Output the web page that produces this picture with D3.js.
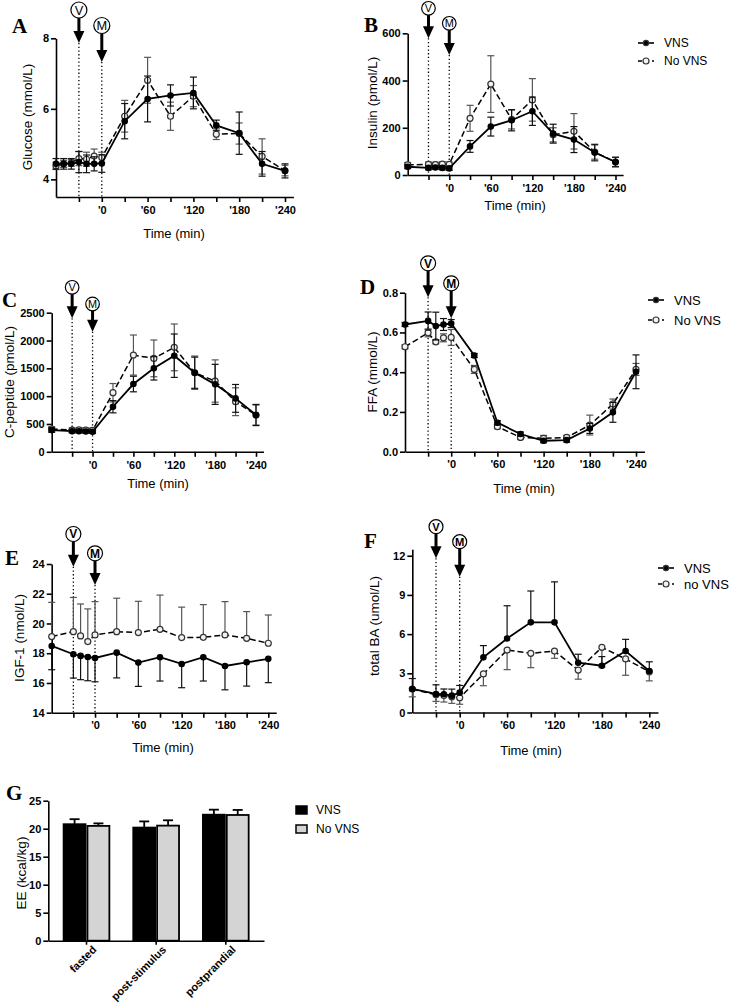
<!DOCTYPE html>
<html>
<head>
<meta charset="utf-8">
<script src="https://cdn.jsdelivr.net/npm/d3@7"></script>
<style>
body { margin: 0; background: #fff; }
text { font-family: "Liberation Sans", Arial, sans-serif; fill: #000; }
.tick text { font-weight: bold; font-size: 11px; }
.domain, .tick line { stroke: #000; stroke-width: 1.6; }
.panel-label { font-family: "Liberation Serif", "Times New Roman", serif; font-weight: bold; font-size: 21px; }
.axis-title { font-size: 13.5px; }
</style>
</head>
<body>
<svg id="fig" width="732" height="1005"></svg>
<script>
"use strict";

// time points (min)
var glucoseTimes = [-60, -50, -40, -30, -20, -10, 0, 30, 60, 90, 120, 150, 180, 210, 240];
var sampleTimes = [-60, -30, -20, -10, 0, 30, 60, 90, 120, 150, 180, 210, 240];
var timeTicks = [-30, 0, 30, 60, 90, 120, 150, 180, 210, 240];
var timeLabels = [0, 60, 120, 180, 240];

// A - glucose
var glucoseVNS      = [4.44, 4.44, 4.44, 4.49, 4.44, 4.44, 4.45, 5.65, 6.28, 6.38, 6.45, 5.53, 5.31, 4.44, 4.24];
var glucoseVNSErr   = [0.15, 0.15, 0.15, 0.3, 0.25, 0.2, 0.25, 0.5, 0.65, 0.3, 0.45, 0.15, 0.6, 0.35, 0.2];
var glucoseNoVNS    = [4.38, 4.44, 4.47, 4.59, 4.57, 4.66, 4.62, 5.79, 6.81, 5.79, 6.36, 5.28, 5.30, 4.65, 4.25];
var glucoseNoVNSErr = [0.1, 0.1, 0.1, 0.2, 0.2, 0.2, 0.15, 0.45, 0.65, 0.4, 0.3, 0.15, 0.3, 0.5, 0.15];

// B - insulin
var insulinVNS      = [35, 30, 32, 30, 28, 121, 205, 232, 270, 175, 150, 95, 55];
var insulinVNSErr   = [8, 8, 8, 8, 8, 25, 40, 45, 60, 40, 55, 35, 20];
var insulinNoVNS    = [43, 45, 44, 46, 45, 240, 385, 235, 318, 170, 185, 97, 55];
var insulinNoVNSErr = [10, 10, 10, 10, 10, 55, 120, 40, 90, 30, 75, 30, 20];

// C - C-peptide
var cpepVNS      = [390, 370, 370, 365, 360, 810, 1218, 1500, 1727, 1421, 1212, 960, 661];
var cpepVNSErr   = [40, 30, 30, 30, 30, 110, 140, 210, 390, 280, 360, 250, 190];
var cpepNoVNS    = [410, 390, 395, 390, 385, 1062, 1739, 1679, 1877, 1421, 1272, 900, 661];
var cpepNoVNSErr = [40, 40, 40, 40, 40, 165, 360, 330, 420, 300, 380, 250, 180];

// D - FFA
var ffaVNS      = [0.64, 0.658, 0.632, 0.64, 0.645, 0.484, 0.146, 0.089, 0.055, 0.058, 0.117, 0.198, 0.402];
var ffaVNSErr   = [0.01, 0.045, 0.07, 0.03, 0.02, 0.01, 0.01, 0.01, 0.01, 0.01, 0.025, 0.05, 0.085];
var ffaNoVNS    = [0.528, 0.598, 0.553, 0.573, 0.575, 0.414, 0.126, 0.072, 0.067, 0.072, 0.134, 0.24, 0.414];
var ffaNoVNSErr = [0.01, 0.02, 0.01, 0.02, 0.04, 0.02, 0.01, 0.01, 0.015, 0.01, 0.05, 0.025, 0.03];

// E - IGF-1
var igfVNS      = [18.49, 17.93, 17.82, 17.75, 17.68, 18.04, 17.37, 17.73, 17.28, 17.73, 17.14, 17.39, 17.62];
var igfVNSErr   = [1.6, 1.6, 1.6, 1.6, 1.6, 1.7, 1.6, 1.6, 1.6, 1.6, 1.6, 1.6, 1.6];
var igfNoVNS    = [19.12, 19.45, 19.16, 18.78, 19.23, 19.45, 19.39, 19.61, 19.05, 19.07, 19.23, 19.0, 18.67];
var igfNoVNSErr = [2.3, 2.3, 2.15, 2.2, 2.24, 2.25, 2.1, 2.3, 2.05, 2.2, 2.24, 1.8, 1.9];

// F - total bile acids
var baVNS      = [1.8, 1.42, 1.4, 1.29, 1.52, 4.22, 5.67, 6.9, 6.9, 3.81, 3.58, 4.7, 3.18];
var baVNSErr   = [0.8, 0.7, 0.4, 0.5, 0.55, 0.9, 2.5, 2.4, 3.1, 0.65, 0.7, 0.9, 0.7];
var baNoVNS    = [1.8, 1.35, 1.3, 1.2, 1.13, 2.95, 4.78, 4.53, 4.7, 3.25, 4.99, 4.1, 3.12];
var baNoVNSErr = [0.6, 0.5, 0.5, 0.5, 0.5, 0.9, 1.5, 1.1, 0.55, 0.7, 1.5, 1.25, 0.7];

// G - energy expenditure
var eeCategories = ["fasted", "post-stimulus", "postprandial"];
var eeGroups     = ["VNS", "No VNS"];
var eeVNS        = [20.8, 20.2, 22.5];
var eeVNSErr     = [0.9, 1.1, 0.9];
var eeNoVNS      = [20.5, 20.55, 22.45];
var eeNoVNSErr   = [0.45, 0.95, 0.9];

var svg = d3.select("#fig");


function drawArrow(g, xp, cy, tip, r, letter, bold, axisY) {
    g.append("line")
        .attr("x1", xp).attr("x2", xp).attr("y1", tip).attr("y2", axisY)
        .attr("stroke", "#000").attr("stroke-width", 1.3)
        .attr("stroke-dasharray", "1.3,2.4");
    g.append("line")
        .attr("x1", xp).attr("x2", xp).attr("y1", cy + r).attr("y2", tip - 10)
        .attr("stroke", "#000").attr("stroke-width", 3);
    g.append("path")
        .attr("d", "M" + (xp - 5.5) + "," + (tip - 12) + "L" + (xp + 5.5) + "," + (tip - 12) +
                   "L" + xp + "," + tip + "Z")
        .attr("fill", "#000");
    g.append("circle")
        .attr("cx", xp).attr("cy", cy).attr("r", r)
        .attr("fill", "#fff").attr("stroke", "#000").attr("stroke-width", 1.2);
    g.append("text")
        .attr("x", xp).attr("y", cy).attr("dy", "0.36em")
        .attr("text-anchor", "middle")
        .style("font-size", (r * 1.6) + "px")
        .style("font-weight", bold ? "bold" : "normal")
        .text(letter);
}


function drawSeries(g, x, y, times, vals, errs, dir, dashed) {
    var col = dashed ? "#555" : "#111";
    var eb = g.append("g").attr("stroke", col).attr("stroke-width", 1.2);
    times.forEach(function(t, i) {
        var cx = x(t);
        var lo = dir === "up" ? vals[i] : vals[i] - errs[i];
        var hi = dir === "down" ? vals[i] : vals[i] + errs[i];
        eb.append("line").attr("x1", cx).attr("x2", cx).attr("y1", y(lo)).attr("y2", y(hi));
        if (dir !== "down")
            eb.append("line").attr("x1", cx - 3.5).attr("x2", cx + 3.5).attr("y1", y(hi)).attr("y2", y(hi));
        if (dir !== "up")
            eb.append("line").attr("x1", cx - 3.5).attr("x2", cx + 3.5).attr("y1", y(lo)).attr("y2", y(lo));
    });

    var line = d3.line()
        .x(function(d, i) { return x(times[i]); })
        .y(function(d) { return y(d); });

    g.append("path")
        .datum(vals)
        .attr("d", line)
        .attr("fill", "none")
        .attr("stroke", "#000")
        .attr("stroke-width", dashed ? 1.5 : 1.8)
        .attr("stroke-dasharray", dashed ? "6,3" : null);

    g.selectAll(null)
        .data(vals)
        .enter().append("circle")
        .attr("cx", function(d, i) { return x(times[i]); })
        .attr("cy", function(d) { return y(d); })
        .attr("r", dashed ? 3 : 2.7)
        .attr("fill", dashed ? "#f2f2f2" : "#000")
        .attr("stroke", dashed ? "#333" : "#000")
        .attr("stroke-width", 1.2);
}


function drawLegend(g, lx, ly, gap, size, labels) {
    labels.forEach(function(lab, i) {
        var yy = ly + i * gap;
        var dashed = i === 1;
        g.append("line")
            .attr("x1", lx).attr("x2", lx + 16).attr("y1", yy).attr("y2", yy)
            .attr("stroke", "#000").attr("stroke-width", 1.6)
            .attr("stroke-dasharray", dashed ? "4,3" : null);
        g.append("circle")
            .attr("cx", lx + 8).attr("cy", yy).attr("r", dashed ? 3 : 2.6)
            .attr("fill", dashed ? "#f2f2f2" : "#000").attr("stroke", "#333").attr("stroke-width", 1.2);
        g.append("text")
            .attr("x", lx + 26).attr("y", yy).attr("dy", "0.35em")
            .style("font-size", size + "px")
            .text(lab);
    });
}


function drawTimePanel(p) {
    var g = svg.append("g");
    var x = d3.scaleLinear()
        .domain([-60, 251])
        .range([p.x0, p.x0 + (p.x240 - p.x0) * 311 / 300]);
    var y = d3.scaleLinear().domain(p.yDomain).range(p.yRange);
    var axisY = p.yRange[0];

    // arrows + dotted guide lines first (behind data)
    drawArrow(g, x(-30), p.arrows[0], p.arrows[1], p.arrows[4], "V", p.boldArrows, axisY);
    drawArrow(g, x(0), p.arrows[2], p.arrows[3], p.arrows[4], "M", p.boldArrows, axisY);

    g.append("g")
        .attr("transform", "translate(0," + axisY + ")")
        .call(d3.axisBottom(x)
            .tickValues(timeTicks)
            .tickSize(5).tickPadding(4).tickSizeOuter(0)
            .tickFormat(function(d) { return timeLabels.indexOf(d) >= 0 ? "'" + d : ""; }));

    g.append("g")
        .attr("transform", "translate(" + p.x0 + ",0)")
        .call(d3.axisLeft(y)
            .tickValues(p.yTicks)
            .tickSize(5).tickPadding(2).tickSizeOuter(0)
            .tickFormat(p.yFmt));

    drawSeries(g, x, y, p.times, p.no, p.noErr, p.errDir[1], true);
    drawSeries(g, x, y, p.times, p.vns, p.vnsErr, p.errDir[0], false);

    g.append("text")
        .attr("class", "axis-title")
        .attr("transform", "translate(" + p.ylab[1] + "," + p.ylab[2] + ") rotate(-90)")
        .attr("dy", "0.35em")
        .attr("text-anchor", "middle")
        .text(p.ylab[0]);

    g.append("text")
        .attr("class", "axis-title")
        .attr("x", p.xlab[0]).attr("y", p.xlab[1])
        .attr("text-anchor", "middle")
        .style("font-size", "13px")
        .text("Time (min)");

    g.append("text")
        .attr("class", "panel-label")
        .attr("x", p.letter[1]).attr("y", p.letter[2])
        .text(p.letter[0]);

    if (p.legend)
        drawLegend(g, p.legend[0], p.legend[1], p.legend[2], p.legend[3], p.legend[4]);
}


var panels = [
    { times: glucoseTimes, vns: glucoseVNS, vnsErr: glucoseVNSErr, no: glucoseNoVNS, noErr: glucoseNoVNSErr,
      errDir: ["both", "both"], x0: 56, x240: 285, yDomain: [3.5, 8], yRange: [197, 38.3],
      yTicks: [4, 6, 8], yFmt: d3.format("d"),
      ylab: ["Glucose (mmol/L)", 27, 117], xlab: [174, 238], letter: ["A", 12, 33],
      arrows: [10, 43, 25.5, 62, 8], boldArrows: false, legend: null },
    { times: sampleTimes, vns: insulinVNS, vnsErr: insulinVNSErr, no: insulinNoVNS, noErr: insulinNoVNSErr,
      errDir: ["both", "both"], x0: 407.7, x240: 615.5, yDomain: [0, 600], yRange: [175, 33.3],
      yTicks: [0, 200, 400, 600], yFmt: d3.format("d"),
      ylab: ["Insulin (pmol/L)", 372, 103], xlab: [515, 210], letter: ["B", 364, 32],
      arrows: [8.3, 38.3, 23.3, 55, 6.8], boldArrows: false,
      legend: [638, 43, 18, 12, ["VNS", "No VNS"]] },
    { times: sampleTimes, vns: cpepVNS, vnsErr: cpepVNSErr, no: cpepNoVNS, noErr: cpepNoVNSErr,
      errDir: ["both", "both"], x0: 51.7, x240: 256, yDomain: [0, 2500], yRange: [451.8, 312.7],
      yTicks: [0, 500, 1000, 1500, 2000, 2500], yFmt: d3.format("d"),
      ylab: ["C-peptide (pmol/L)", 9, 382], xlab: [158, 488], letter: ["C", 2, 307],
      arrows: [287.3, 318.3, 304, 331.7, 6.8], boldArrows: false, legend: null },
    { times: sampleTimes, vns: ffaVNS, vnsErr: ffaVNSErr, no: ffaNoVNS, noErr: ffaNoVNSErr,
      errDir: ["both", "both"], x0: 405, x240: 636, yDomain: [0, 0.8], yRange: [451.7, 292.7],
      yTicks: [0, 0.2, 0.4, 0.6, 0.8], yFmt: d3.format(".1f"),
      ylab: ["FFA (mmol/L)", 372, 372], xlab: [524, 493], letter: ["D", 360, 294],
      arrows: [263.3, 297.3, 283.3, 318.3, 7.5], boldArrows: true,
      legend: [648, 300, 20, 13, ["VNS", "No VNS"]] },
    { times: sampleTimes, vns: igfVNS, vnsErr: igfVNSErr, no: igfNoVNS, noErr: igfNoVNSErr,
      errDir: ["down", "up"], x0: 51.7, x240: 268.3, yDomain: [14, 24], yRange: [712.7, 564],
      yTicks: [14, 16, 18, 20, 22, 24], yFmt: d3.format("d"),
      ylab: ["IGF-1 (nmol/L)", 19, 638], xlab: [163, 752], letter: ["E", 5, 565],
      arrows: [534, 566.7, 553.3, 585, 7.5], boldArrows: true, legend: null },
    { times: sampleTimes, vns: baVNS, vnsErr: baVNSErr, no: baNoVNS, noErr: baNoVNSErr,
      errDir: ["up", "down"], x0: 412.3, x240: 649.3, yDomain: [0, 12.5], yRange: [712.5, 549.2],
      yTicks: [0, 3, 6, 9, 12], yFmt: d3.format("d"),
      ylab: ["total BA (umol/L)", 374, 626], xlab: [531, 755], letter: ["F", 364, 548],
      arrows: [526.7, 558.3, 541.7, 576.7, 7], boldArrows: true,
      legend: [658, 568, 16, 13, ["VNS", "no VNS"]] }
];

panels.forEach(drawTimePanel);


// panel G: grouped bars
(function() {
    var g = svg.append("g");
    var x0 = d3.scaleBand().domain(eeCategories).range([48.3, 264])
        .paddingInner(0.343).paddingOuter(0.22);
    var x1 = d3.scaleBand().domain(eeGroups).range([0, x0.bandwidth()]).paddingInner(0.08);
    var y = d3.scaleLinear().domain([0, 25]).range([940.7, 800.7]);
    var vals = [eeVNS, eeNoVNS];
    var errs = [eeVNSErr, eeNoVNSErr];
    var fills = ["#000", "#d4d4d4"];

    eeGroups.forEach(function(grp, k) {
        var bars = g.append("g");
        bars.selectAll("rect")
            .data(vals[k])
            .enter().append("rect")
            .attr("x", function(d, i) { return x0(eeCategories[i]) + x1(grp); })
            .attr("y", function(d) { return y(d); })
            .attr("width", x1.bandwidth())
            .attr("height", function(d) { return y(0) - y(d); })
            .attr("fill", fills[k])
            .attr("stroke", "#000")
            .attr("stroke-width", 1.8);
        vals[k].forEach(function(v, i) {
            var cx = x0(eeCategories[i]) + x1(grp) + x1.bandwidth() / 2;
            bars.append("line").attr("x1", cx).attr("x2", cx)
                .attr("y1", y(v)).attr("y2", y(v + errs[k][i]))
                .attr("stroke", "#000").attr("stroke-width", 1.8);
            bars.append("line").attr("x1", cx - 5).attr("x2", cx + 5)
                .attr("y1", y(v + errs[k][i])).attr("y2", y(v + errs[k][i]))
                .attr("stroke", "#000").attr("stroke-width", 1.8);
        });
    });

    var xa = g.append("g")
        .attr("transform", "translate(0," + y(0) + ")")
        .call(d3.axisBottom(x0).tickSize(4).tickSizeOuter(0));
    xa.selectAll(".tick text")
        .attr("text-anchor", "end")
        .attr("transform", "translate(3,2) rotate(-45)")
        .attr("dy", "0.35em");

    g.append("g")
        .attr("transform", "translate(48.3,0)")
        .call(d3.axisLeft(y).tickValues([0, 5, 10, 15, 20, 25])
            .tickSize(5).tickPadding(2).tickSizeOuter(0));

    g.append("text")
        .attr("class", "axis-title")
        .attr("transform", "translate(21,873) rotate(-90)")
        .attr("dy", "0.35em")
        .attr("text-anchor", "middle")
        .text("EE (kcal/kg)");

    g.append("text").attr("class", "panel-label").attr("x", 6).attr("y", 800).text("G");

    // legend
    eeGroups.forEach(function(grp, k) {
        var yy = 810 + k * 19;
        g.append("rect")
            .attr("x", 296).attr("y", yy - 4).attr("width", 11).attr("height", 8)
            .attr("fill", fills[k]).attr("stroke", "#000").attr("stroke-width", 1.5);
        g.append("text")
            .attr("x", 316).attr("y", yy).attr("dy", "0.35em")
            .style("font-size", "12px")
            .text(grp);
    });
})();
</script>
</body>
</html>
